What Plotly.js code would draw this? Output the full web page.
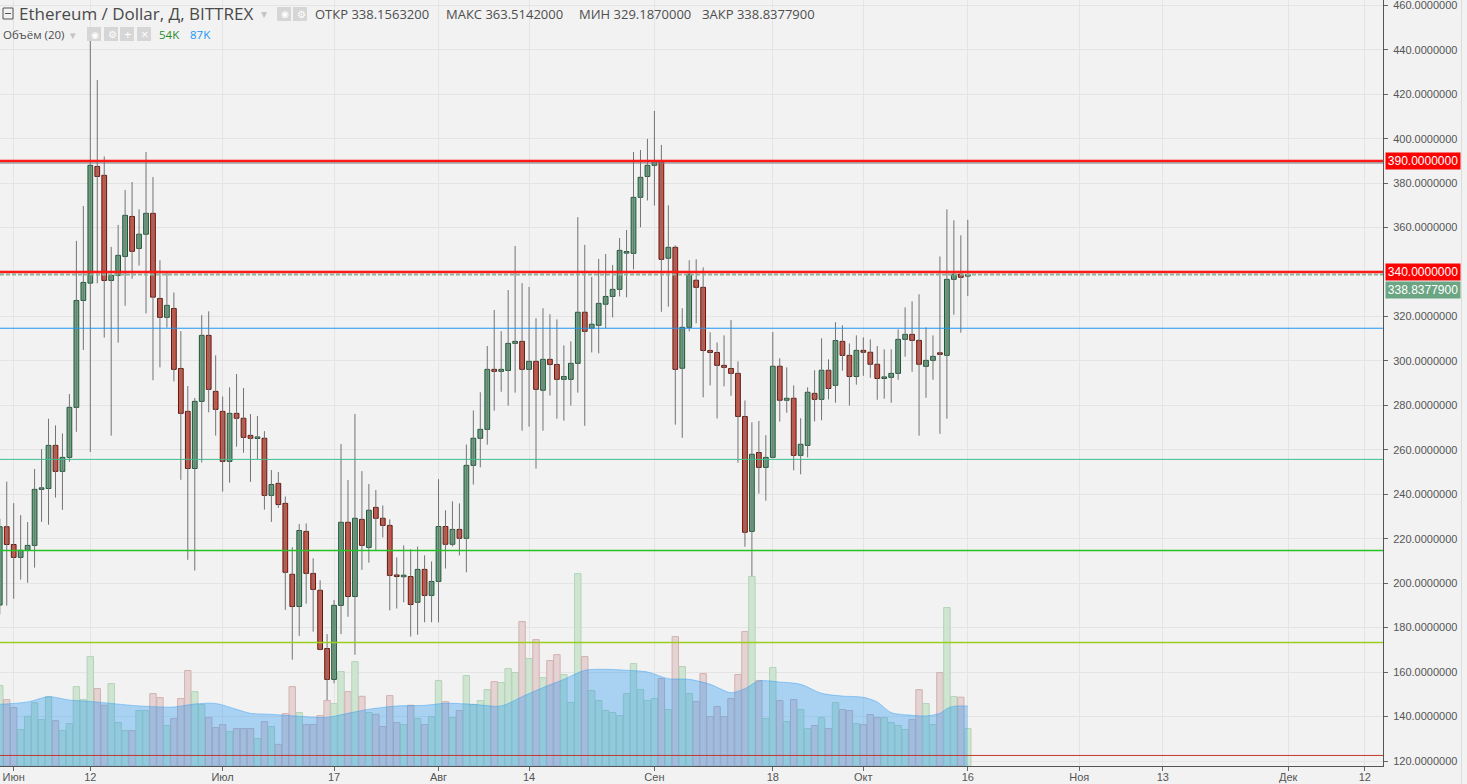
<!DOCTYPE html>
<html>
<head>
<meta charset="utf-8">
<script src="https://cdn.plot.ly/plotly-3.0.1.min.js"></script>
<style>html,body{margin:0;padding:0;background:#f2f2f2;}#chart{width:1467px;height:784px;}</style>
</head>
<body>
<div id="chart"></div>
<script>
// ---- DATA (daily candles, 2017-05-30 .. 2017-10-16) ----
const startDate = '2017-05-30';
const opens = [190.2,225.4,217.4,211.6,214.8,217.0,242.2,242.6,262.0,250.3,256.6,279.1,327.2,335.0,387.5,383.5,336.2,338.5,347.0,365.0,350.6,357.0,366.4,328.1,319.6,323.6,296.6,277.3,251.6,281.8,311.5,286.3,
277.3,254.8,276.4,274.2,266.5,265.1,265.2,239.5,244.9,235.9,204.0,189.5,223.3,204.4,196.8,170.6,156.7,190.0,227.4,194.0,228.7,216.1,234.1,229.2,226.0,203.5,202.9,203.0,191.4,206.2,194.5,
200.8,225.5,217.5,224.2,220.2,253.0,265.2,269.2,296.2,295.3,295.7,307.9,308.8,296.2,299.8,286.8,300.7,298.4,291.7,291.7,298.9,321.9,314.7,316.0,325.5,329.0,332.2,348.5,348.4,373.6,383.0,
388.0,389.8,346.2,351.1,296.7,315.1,336.3,333.1,304.7,303.8,298.0,296.6,294.4,275.0,223.3,258.8,252.1,256.6,297.6,282.3,283.2,257.5,262.0,285.4,282.7,295.8,289.0,308.8,302.5,293.0,
304.75,303.9,298.5,292.1,292.6,294.4,309.7,311.95,309.25,297.55,300.25,303.4,302.5,336.7,339.0,338.1563];
const highs = [229,245.7,236.0,230.6,227.5,251.4,260.3,274.0,271.0,267.4,285.1,354.0,369.7,448.0,426.4,392.0,351.3,361.2,376.9,380.5,368.2,394.0,382.7,345.3,340.4,330.8,313.4,288.7,283.3,320.6,322.3,302.5,
284.0,288.1,294.1,287.8,276.1,275.2,268.4,250.9,250.0,239.0,216.2,226.6,226.9,211.2,201.3,177.1,192.4,262.6,246.4,276.1,250.4,244.6,241.9,235.0,228.7,211.6,217.0,215.2,216.5,212.5,209.8,
246.8,232.8,236.8,235.9,262.4,277.7,285.9,306.7,322.9,313.4,331.9,351.7,335.0,333.3,319.2,323.7,321.0,318.7,307.0,308.8,364.7,352.2,337.8,345.9,348.1,343.2,355.3,358.9,394.0,394.9,399.9,
412.5,397.2,370.0,352.0,323.7,345.3,345.7,342.1,312.9,308.3,311.5,318.4,299.8,282.2,272.4,273.0,266.6,313.0,301.2,297.1,289.0,274.2,288.1,295.8,310.2,300.7,317.4,316.0,307.9,311.5,
310.6,309.7,306.7,305.2,305.2,314.2,324.1,326.8,330.0,315.1,311.5,347.0,368.2,363.25,356.5,363.5142];
const lows = [186,189.9,193.0,201.6,200.2,207.0,227.6,226.3,238.5,233.0,254.6,268.1,304.9,259.0,334.9,310.5,266.4,308.2,324.8,337.0,342.9,321.4,291.3,297.1,315.0,290.8,246.5,210.5,205.7,254.3,276.9,266.4,
241.2,245.2,261.4,258.7,245.6,255.7,233.1,227.6,233.9,188.0,165.6,176.3,190.8,178.2,169.8,135.8,155.0,177.1,184.9,167.8,206.0,209.2,214.8,220.6,187.8,188.6,191.4,176.0,176.8,182.4,182.4,
182.4,206.6,216.5,212.5,204.9,244.4,252.1,262.3,277.6,286.1,279.9,285.7,268.6,270.4,251.5,268.6,284.4,274.0,273.1,279.9,285.7,270.8,303.8,303.4,314.6,319.6,329.0,328.6,341.2,360.1,372.2,
369.9,322.1,324.4,271.3,265.4,313.3,316.9,283.6,289.0,274.1,288.6,284.3,254.2,216.4,200.2,240.3,237.1,256.2,272.7,276.7,250.8,249.0,256.6,272.8,273.3,282.7,281.2,295.6,279.9,289.3,
293.3,292.4,282.5,283.0,281.2,291.5,301.9,295.1,266.4,283.4,291.5,267.2,274.0,320.8,312.7,329.187];
const closes = [225.4,217.4,211.6,214.8,217.0,242.2,242.6,262.0,250.3,256.6,279.1,327.2,335.3,388.0,383.0,336.2,338.5,347.5,365.5,349.3,357.0,366.4,328.7,319.6,325.0,296.2,276.4,251.6,281.8,311.5,287.2,278.2,
254.8,276.4,274.2,265.6,265.2,265.4,239.5,244.4,235.4,204.9,189.5,223.7,204.4,197.2,170.2,156.7,190.0,227.4,194.0,229.2,217.0,232.8,229.2,226.0,203.5,203.0,203.2,190.4,206.2,194.5,200.8,
225.5,217.5,224.2,220.2,253.0,265.2,269.2,296.2,295.3,296.2,307.9,308.8,296.2,299.8,287.2,300.7,298.4,291.7,293.0,298.9,321.9,313.3,316.5,325.9,329.0,332.2,349.75,348.9,373.6,382.6,388.0,
389.8,345.7,351.1,296.2,315.1,339.0,333.1,304.7,303.8,298.0,297.1,294.4,275.0,222.9,258.0,252.1,256.6,297.6,282.3,283.2,257.5,262.5,285.9,282.7,295.8,287.6,309.2,302.5,293.0,304.75,
303.9,298.5,292.1,292.5,294.4,309.7,311.95,309.25,298.5,300.25,302.05,302.95,336.7,339.0,337.6,338.8378];
// volume, thousands
const volumes = [116.5,96.2,84.6,52.7,72,91.8,67.2,100.5,65.7,51.3,61.4,115,96.2,158.5,112.2,88,119.4,62.9,51.3,51.3,80.3,80.3,104.9,99.1,58.6,68.7,97.7,138.3,107.7,89,70.1,55.6,
60,49.8,54.2,54.2,54.2,39.7,64.3,57.1,31.4,75.9,115,77.4,60,60,73,95,90.4,136.8,107.8,151.3,101,77.4,74.9,57.1,102,62.9,60,88,68.7,60,71.6,
123.8,93.3,70.1,80.3,131,89,94.8,110.7,122.3,120.9,141.2,135.4,209.3,155.7,183.2,128.1,152.8,161.4,132.5,91.9,278.8,158.6,109.3,94.8,80.3,77.4,73,104.9,148.4,110.7,94.8,
97.7,126.7,81.7,187.5,144.1,104.9,93.3,133.9,71.6,86.1,71.6,97.7,132.5,194.8,274.5,123.8,68.7,142.6,94.8,64.3,96.2,81.7,54.2,58.6,70.1,54.2,91.9,81.7,80.3,61.4,
60,74.5,70.1,70.1,62.9,58.6,52.7,67.2,110.7,90.4,60,135.4,229.6,100.6,99.7,54.2];
// volume moving average (20), read at selected dates, thousands
const maDates = ['2017-05-30','2017-06-03','2017-06-06','2017-06-09','2017-06-12','2017-06-15','2017-06-18','2017-06-21','2017-06-24','2017-06-27','2017-06-30','2017-07-03','2017-07-05','2017-07-08','2017-07-12','2017-07-16','2017-07-19','2017-07-22','2017-07-26','2017-07-30','2017-08-02','2017-08-06','2017-08-10','2017-08-13','2017-08-16','2017-08-19','2017-08-22','2017-08-25','2017-08-28','2017-08-31','2017-09-03','2017-09-06','2017-09-09','2017-09-12','2017-09-14','2017-09-16','2017-09-19','2017-09-22','2017-09-25','2017-09-28','2017-10-01','2017-10-03','2017-10-05','2017-10-08','2017-10-10','2017-10-12','2017-10-13','2017-10-14','2017-10-16'];
const maValues = [89.4,92.8,100.5,95.6,93.6,90.7,87.8,86,85.5,89.9,90.7,82.1,76.4,74.9,72,70.6,76.4,82.3,87,87.9,90.9,89.4,87,100.5,113.6,125.6,138.7,140.2,138.7,136.3,126.6,125.6,118.4,106.3,112.1,123.2,121.7,118.4,105.3,101.4,99.5,92.8,77.4,73.5,72.5,76.4,83.1,86.5,87];
// horizontal levels drawn on the chart
const levelValues = [390, 389.05, 340, 314.7, 255.7, 214.7, 173.3, 122.5];
const levelColors = ['#ff1a1a', '#7a7a7a', '#ff1a1a', '#2196f3', '#3dbd8d', '#22c322', '#9acd1e', '#c0392b'];
const levelWidths = [2, 1, 2, 1, 1, 1.5, 1.5, 1];
const lastPrice = 338.8377900;
// axis ticks (340 label is covered by the level box)
const xTickVals = ['2017-06-01','2017-06-12','2017-07-01','2017-07-17','2017-08-01','2017-08-14','2017-09-01','2017-09-18','2017-10-01','2017-10-16','2017-11-01','2017-11-13','2017-12-01','2017-12-12'];
const xTickText = ['Июн','12','Июл','17','Авг','14','Сен','18','Окт','16','Ноя','13','Дек','12'];
const yTickVals = [120,140,160,180,200,220,240,260,280,300,320,360,380,400,420,440,460];

// ---- build ----
const DAY = 86400000;
const t0 = Date.parse(startDate + 'T00:00:00Z');
const dates = opens.map((_, i) => new Date(t0 + i * DAY).toISOString().slice(0, 10));
const up = closes.map((c, i) => c >= opens[i]);

const wx = [], wy = [];
dates.forEach((d, i) => { wx.push(d, d, null); wy.push(highs[i], lows[i], null); });

const volTrace = {
  type: 'bar', x: dates, y: volumes, yaxis: 'y2', width: DAY * 0.92,
  marker: { color: up.map(u => u ? '#cfe5d1' : '#e5d2d2'), line: { color: up.map(u => u ? '#b3d3b8' : '#d3b1b1'), width: 1 } },
  hoverinfo: 'skip'
};
const maTrace = {
  type: 'scatter', mode: 'lines', x: maDates, y: maValues, yaxis: 'y2', fill: 'tozeroy',
  fillcolor: 'rgba(33,150,243,0.35)', line: { color: 'rgba(33,150,243,0.40)', width: 1, shape: 'spline', smoothing: 0.8 },
  hoverinfo: 'skip'
};
const wickTrace = {
  type: 'scatter', mode: 'lines', x: wx, y: wy, line: { color: '#737375', width: 1 }, hoverinfo: 'skip'
};
const bodyTrace = {
  type: 'bar', x: dates, base: opens.map((o, i) => Math.min(o, closes[i])),
  y: opens.map((o, i) => Math.max(Math.abs(closes[i] - o), 0.7)), width: DAY * 0.68,
  marker: { color: up.map(u => u ? '#6ba583' : '#d75442'), line: { color: up.map(u => u ? '#225437' : '#5b1a13'), width: 1 } },
  hoverinfo: 'skip'
};

const W = 1383, H = 766;
const px = x => x / W, py = y => 1 - y / H;
const shapes = [];
// halo for red levels
[0, 2].forEach(k => shapes.push({ type: 'line', xref: 'paper', x0: 0, x1: 1, yref: 'y', y0: levelValues[k], y1: levelValues[k], line: { color: 'rgba(255,0,0,0.25)', width: 4 }, layer: 'above' }));
levelValues.forEach((v, k) => shapes.push({ type: 'line', xref: 'paper', x0: 0, x1: 1, yref: 'y', y0: v, y1: v, line: { color: levelColors[k], width: levelWidths[k] }, layer: 'above' }));
shapes.push({ type: 'line', xref: 'paper', x0: 0, x1: 1, yref: 'y', y0: lastPrice, y1: lastPrice, line: { color: '#8fb39a', width: 2, dash: '4px,2px' }, layer: 'above' });
// header icons
shapes.push({ type: 'rect', xref: 'paper', yref: 'paper', x0: px(3), x1: px(13), y0: py(19), y1: py(8), line: { color: '#555', width: 1 }, fillcolor: 'rgba(0,0,0,0)' });
shapes.push({ type: 'line', xref: 'paper', yref: 'paper', x0: px(5), x1: px(11), y0: py(13.5), y1: py(13.5), line: { color: '#555', width: 1 } });
[[277, 7], [293, 7], [87, 27], [104, 27], [120, 27], [137, 27]].forEach(([x, y]) =>
  shapes.push({ type: 'rect', xref: 'paper', yref: 'paper', x0: px(x), x1: px(x + 14), y0: py(y + 14), y1: py(y), line: { width: 0 }, fillcolor: '#d6d6d6', layer: 'above' }));
// right strip
shapes.push({ type: 'line', xref: 'paper', yref: 'paper', x0: px(1461.5), x1: px(1461.5), y0: py(784), y1: 1, line: { color: '#dcdcdc', width: 1 } });

const F = 'Open Sans, Liberation Sans, sans-serif';
const ann = (text, x, y, size, color, extra) => Object.assign({ text, xref: 'paper', yref: 'paper', x: px(x), y: py(y), xanchor: 'left', yanchor: 'middle', showarrow: false, font: { family: F, size, color } }, extra || {});
const boxFont = { family: 'Liberation Sans, Arial', size: 12, color: '#fff' };
const annotations = [
  ann('Ethereum / Dollar, Д, BITTREX', 17, 14, 17, '#4a4a4a'),
  ann('▾', 259, 14, 12, '#c4c4c4'),
  ann('ОТКР 338.1563200', 313, 14, 13, '#4e4e4e'),
  ann('МАКС 363.5142000', 444, 14, 13, '#4e4e4e'),
  ann('МИН 329.1870000', 577, 14, 13, '#4e4e4e'),
  ann('ЗАКР 338.8377900', 700, 14, 13, '#4e4e4e'),
  ann('Объём (20)', 1, 34, 11.5, '#4e4e4e'),
  ann('▾', 68, 34, 11, '#c4c4c4'),
  ann('◉', 279, 14, 9, '#fff'), ann('⚙', 295, 14, 10, '#fff'),
  ann('◉', 89, 34, 9, '#fff'), ann('⚙', 106, 34, 10, '#fff'), ann('+', 122, 34, 13, '#fff'), ann('×', 139, 34, 13, '#fff'),
  ann('54K', 157, 34, 11.5, '#2a8c2a'),
  ann('87K', 188, 34, 11.5, '#2196f3'),
  { text: '390.0000000', xref: 'paper', yref: 'y', x: 1, y: 390, xanchor: 'left', yanchor: 'middle', xshift: 2, showarrow: false, bgcolor: '#ff0000', width: 72, height: 14, borderpad: 1, font: boxFont },
  { text: '340.0000000', xref: 'paper', yref: 'y', x: 1, y: 340, xanchor: 'left', yanchor: 'middle', xshift: 2, showarrow: false, bgcolor: '#ff0000', width: 72, height: 14, borderpad: 1, font: boxFont },
  { text: '338.8377900', xref: 'paper', yref: 'y', x: 1, y: lastPrice, xanchor: 'left', yanchor: 'middle', xshift: 2, yshift: -15, showarrow: false, bgcolor: '#6ba583', width: 72, height: 14, borderpad: 1, font: boxFont }
];

const layout = {
  width: 1467, height: 784,
  margin: { l: 0, r: 84, t: 0, b: 18, pad: 0 },
  paper_bgcolor: '#f2f2f2', plot_bgcolor: '#f2f2f2',
  showlegend: false, barmode: 'overlay', bargap: 0,
  xaxis: {
    type: 'date', range: ['2017-05-30 00:47', '2017-12-14 14:53'],
    tickmode: 'array', tickvals: xTickVals, ticktext: xTickText,
    showgrid: true, gridcolor: '#e4e4e4', gridwidth: 1,
    ticks: 'outside', ticklen: 4, tickcolor: '#666', ticklabelstandoff: -3, ticklabeloverflow: 'allow',
    tickfont: { family: 'Liberation Sans, Arial', size: 11, color: '#555' },
    showline: true, linecolor: '#555', linewidth: 1, zeroline: false, fixedrange: true, rangeslider: { visible: false }
  },
  yaxis: {
    side: 'right', range: [117.75, 462.38], tickmode: 'array', tickvals: yTickVals, tickformat: '.7f',
    showgrid: true, gridcolor: '#e4e4e4', ticks: 'outside', ticklen: 4, tickcolor: '#666',
    ticklabelstandoff: 3, ticklabeloverflow: 'allow',
    tickfont: { family: 'Liberation Sans, Arial', size: 11, color: '#555' },
    showline: true, linecolor: '#555', linewidth: 1, zeroline: false, fixedrange: true
  },
  yaxis2: { overlaying: 'y', range: [0, 1110], visible: false, fixedrange: true },
  shapes, annotations
};

Plotly.newPlot('chart', [volTrace, maTrace, wickTrace, bodyTrace], layout, { displayModeBar: false, staticPlot: true });
</script>
</body>
</html>
